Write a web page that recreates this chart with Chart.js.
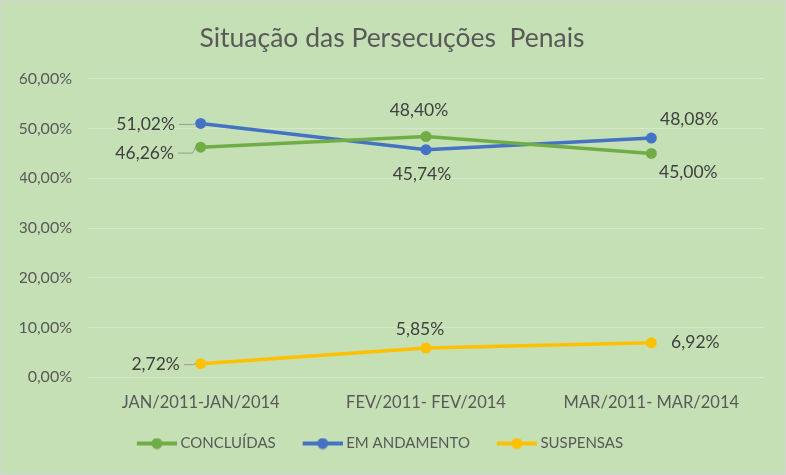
<!DOCTYPE html>
<html>
<head>
<meta charset="utf-8">
<title>Situação das Persecuções Penais</title>
<script src="https://cdn.jsdelivr.net/npm/chart.js@4"></script>
<style>
  html, body { margin: 0; padding: 0; }
  #wrap {
    width: 786px; height: 475px; box-sizing: border-box;
    border: 1px solid #d4d4d4; background: #C5E0B4;
  }
</style>
</head>
<body>
<div id="wrap"><canvas id="chart" width="784" height="473"></canvas></div>
<script>
const periods = ['JAN/2011-JAN/2014', 'FEV/2011- FEV/2014', 'MAR/2011- MAR/2014'];
const concluidas = [46.26, 48.40, 45.00];
const emAndamento = [51.02, 45.74, 48.08];
const suspensas = [2.72, 5.85, 6.92];
const yTicks = [0, 10, 20, 30, 40, 50, 60];

const fontName = 'Lato, "Open Sans", sans-serif';

function pct(v) {
    return v.toFixed(2).replace('.', ',') + '%';
}

// legend marker: short line with a dot, like the spreadsheet legend.
// drawn in the right part of a wider image so it sits close to its text
function legendMarker(color) {
    const c = document.createElement('canvas');
    c.width = 56; c.height = 12;
    const g = c.getContext('2d');
    g.strokeStyle = color; g.lineWidth = 4;
    g.beginPath(); g.moveTo(16, 6); g.lineTo(56, 6); g.stroke();
    g.fillStyle = color;
    g.beginPath(); g.arc(36, 6, 5.5, 0, Math.PI * 2); g.fill();
    return c;
}

// where each value label sits relative to its point (dx, dy) and whether it has a leader line
const labelPlacement = [
    [{dx: -56, dy: 6, lead: true}, {dx: -7, dy: -26}, {dx: 37, dy: 19}],
    [{dx: -55, dy: 1, lead: true}, {dx: -4, dy: 25}, {dx: 38, dy: -19}],
    [{dx: -45, dy: 1, lead: true}, {dx: -6, dy: -19}, {dx: 44, dy: 0}]
];

const valueLabels = {
    id: 'valueLabels',
    afterDatasetsDraw(chart) {
        const ctx = chart.ctx;
        ctx.save();
        ctx.font = '17.5px ' + fontName;
        ctx.fillStyle = '#404040';
        ctx.textAlign = 'center';
        ctx.textBaseline = 'middle';
        chart.data.datasets.forEach((ds, i) => {
            const meta = chart.getDatasetMeta(i);
            meta.data.forEach((pt, j) => {
                const p = labelPlacement[i][j];
                const text = pct(ds.data[j]);
                const lx = pt.x + p.dx, ly = pt.y + p.dy;
                if (p.lead) {
                    const w = ctx.measureText(text).width;
                    ctx.strokeStyle = '#8c8c8c';
                    ctx.lineWidth = 0.8;
                    ctx.beginPath();
                    ctx.moveTo(lx + w / 2 + 4, ly);
                    ctx.lineTo(pt.x - 8, ly);
                    ctx.lineTo(pt.x - 5, pt.y);
                    ctx.stroke();
                }
                ctx.fillText(text, lx, ly);
            });
        });
        ctx.restore();
    }
};

// the legend in the original sits a bit left of the page centre
const legendShift = {
    id: 'legendShift',
    afterLayout(chart) {
        chart.legend.left -= 18;
        chart.legend.right -= 18;
    }
};

function series(label, data, color) {
    return {
        label: label,
        data: data,
        borderColor: color,
        backgroundColor: color,
        borderWidth: 3.5,
        pointRadius: 5.5,
        pointHoverRadius: 5.5,
        pointBackgroundColor: color,
        pointBorderWidth: 0,
        tension: 0,
        marker: legendMarker(color)
    };
}

new Chart(document.getElementById('chart'), {
    type: 'line',
    data: {
        labels: periods,
        datasets: [
            series('CONCLUÍDAS', concluidas, '#70AD47'),
            series('EM ANDAMENTO', emAndamento, '#4472C4'),
            series('SUSPENSAS', suspensas, '#FFC000')
        ]
    },
    options: {
        responsive: false,
        animation: false,
        layout: { padding: { left: 19, right: 21, top: 0, bottom: 13 } },
        plugins: {
            title: {
                display: true,
                text: 'Situação das Persecuções  Penais',
                color: '#595959',
                font: { family: fontName, size: 26.5, weight: 'normal' },
                padding: { top: 22, bottom: 24 }
            },
            legend: {
                position: 'bottom',
                labels: {
                    color: '#595959',
                    font: { family: fontName, size: 15 },
                    usePointStyle: true,
                    pointStyleWidth: 48,
                    boxHeight: 12,
                    padding: 15,
                    generateLabels(chart) {
                        return chart.data.datasets.map((ds, i) => ({
                            text: ds.label,
                            fontColor: '#595959',
                            pointStyle: ds.marker,
                            datasetIndex: i,
                            lineWidth: 0,
                            strokeStyle: 'transparent',
                            fillStyle: 'transparent'
                        }));
                    }
                }
            },
            tooltip: { enabled: false }
        },
        scales: {
            x: {
                offset: true,
                grid: { display: false },
                border: { display: false },
                ticks: {
                    color: '#595959',
                    font: { family: fontName, size: 16.5 },
                    padding: 8,
                    maxRotation: 0
                }
            },
            y: {
                min: 0,
                max: 60,
                afterBuildTicks(scale) {
                    scale.ticks = yTicks.map(v => ({ value: v }));
                },
                afterFit(scale) {
                    scale.width = 68;
                },
                grid: { color: '#D6E8CB', lineWidth: 1, drawTicks: false },
                border: { display: false },
                ticks: {
                    color: '#595959',
                    font: { family: fontName, size: 16 },
                    padding: 16,
                    callback: v => pct(v)
                }
            }
        }
    },
    plugins: [valueLabels, legendShift]
});
</script>
</body>
</html>
